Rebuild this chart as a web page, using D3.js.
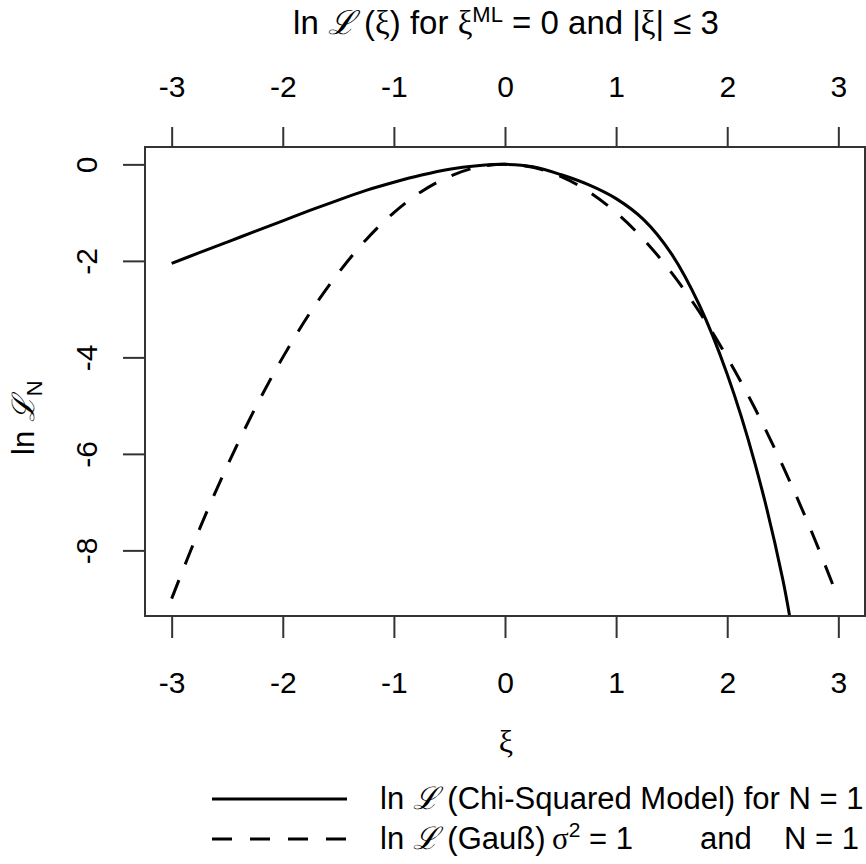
<!DOCTYPE html>
<html>
<head>
<meta charset="utf-8">
<script src="https://cdn.jsdelivr.net/npm/d3@7"></script>
<style>
  body { margin: 0; background: #fff; }
  text { font-family: 'Liberation Sans', Arial, sans-serif; fill: #000; }
  .greek { font-family: 'Liberation Serif', 'DejaVu Serif', serif; }
  .script { font-family: 'DejaVu Serif', serif; font-style: italic; }
</style>
</head>
<body>
<div id="chart"></div>
<script>
// values
var chiXi = [-3, -2.75, -2.5, -2.25, -2, -1.75, -1.5, -1.25, -1, -0.75, -0.5, -0.25, 0,
  0.25, 0.5, 0.75, 1, 1.25, 1.5, 1.75, 2, 2.25, 2.5, 2.6]
var chiLnL = [-2.05, -1.83, -1.61, -1.39, -1.17, -0.95, -0.74, -0.54, -0.37, -0.22, -0.1, -0.03, 0,
  -0.05, -0.21, -0.42, -0.71, -1.15, -1.86, -2.92, -4.35, -6.2, -8.6, -9.9]

var gaussXi = [-3, -2.75, -2.5, -2.25, -2, -1.75, -1.5, -1.25, -1, -0.75, -0.5, -0.25, 0,
  0.25, 0.5, 0.75, 1, 1.25, 1.5, 1.75, 2, 2.25, 2.5, 2.75, 3]
var gaussLnL = [-9, -7.56, -6.25, -5.06, -4, -3.06, -2.25, -1.56, -1, -0.56, -0.25, -0.06, 0,
  -0.06, -0.25, -0.56, -1, -1.56, -2.25, -3.06, -4, -5.06, -6.25, -7.56, -9]

var xTicks = [-3, -2, -1, 0, 1, 2, 3]
var yTicks = [0, -2, -4, -6, -8]

var margin = { top: 147, left: 145, right: 1, bottom: 248 }
var width = 866 - margin.left - margin.right
var height = 864 - margin.top - margin.bottom

var root = d3.select('#chart')
  .append('svg')
  .attr('width', 866)
  .attr('height', 864)

var svg = root.append('g')
  .attr('transform', 'translate(' + margin.left + ',' + margin.top + ')')

// R-style 4% padding around the data range
var x = d3.scaleLinear().domain([-3.24, 3.24]).range([0, width])
var y = d3.scaleLinear().domain([-9.36, 0.36]).range([height, 0])

svg.append('clipPath').attr('id', 'plot-clip')
  .append('rect').attr('width', width).attr('height', height)

var line = d3.line()
  .x(d => x(d[0]))
  .y(d => y(d[1]))
  .curve(d3.curveCatmullRom.alpha(0.5))

var curves = svg.append('g').attr('clip-path', 'url(#plot-clip)')

curves.append('path')
  .datum(d3.zip(gaussXi, gaussLnL))
  .attr('d', line)
  .attr('fill', 'none')
  .attr('stroke', '#000')
  .attr('stroke-width', 3)
  .attr('stroke-dasharray', '20,17')

curves.append('path')
  .datum(d3.zip(chiXi, chiLnL))
  .attr('d', line)
  .attr('fill', 'none')
  .attr('stroke', '#000')
  .attr('stroke-width', 3)

// box
svg.append('rect')
  .attr('width', width)
  .attr('height', height)
  .attr('fill', 'none')
  .attr('stroke', '#333')
  .attr('stroke-width', 2)

// R prints plain hyphens, not the unicode minus
var plain = d => String(d)

function styleAxis(g) {
  g.select('.domain').remove()
  g.selectAll('line').attr('stroke', '#333').attr('stroke-width', 2)
  g.selectAll('text').attr('font-size', 30).attr('font-family', null)
}

svg.append('g')
  .attr('transform', 'translate(0,' + height + ')')
  .call(d3.axisBottom(x).tickValues(xTicks).tickSize(22).tickFormat(plain))
  .call(styleAxis)
  .selectAll('text').attr('y', 77).attr('dy', null)

svg.append('g')
  .call(d3.axisTop(x).tickValues(xTicks).tickSize(20).tickFormat(plain))
  .call(styleAxis)
  .selectAll('text').attr('y', -50).attr('dy', null)

svg.append('g')
  .call(d3.axisLeft(y).tickValues(yTicks).tickSize(22).tickFormat(plain))
  .call(styleAxis)
  .selectAll('text')
  .attr('x', null).attr('dy', null)
  .attr('text-anchor', 'middle')
  .attr('transform', 'translate(-48,0) rotate(-90)')

// title
var title = root.append('text')
  .attr('x', 506)
  .attr('y', 34)
  .attr('text-anchor', 'middle')
  .attr('font-size', 33)
title.append('tspan').text('ln ')
title.append('tspan').attr('class', 'script').text('ℒ')
title.append('tspan').text(' (')
title.append('tspan').attr('class', 'greek').text('ξ')
title.append('tspan').text(') for ')
title.append('tspan').attr('class', 'greek').text('ξ')
title.append('tspan').attr('font-size', 22).attr('dy', -12).text('ML')
title.append('tspan').attr('dy', 12).text(' = 0 and |')
title.append('tspan').attr('class', 'greek').text('ξ')
title.append('tspan').text('| ≤ 3')

// x label
root.append('text')
  .attr('class', 'greek')
  .attr('x', 506)
  .attr('y', 752)
  .attr('text-anchor', 'middle')
  .attr('font-size', 32)
  .text('ξ')

// y label
var ylab = root.append('text')
  .attr('transform', 'translate(34,455) rotate(-90)')
  .attr('font-size', 31)
ylab.append('tspan').text('ln ')
ylab.append('tspan').attr('class', 'script').text('ℒ')
ylab.append('tspan').attr('font-size', 22).attr('dy', 8).text('N')

// legend
var legend = root.append('g')

legend.append('line')
  .attr('x1', 212).attr('x2', 347)
  .attr('y1', 799).attr('y2', 799)
  .attr('stroke', '#000').attr('stroke-width', 3)

legend.append('line')
  .attr('x1', 212).attr('x2', 347)
  .attr('y1', 839).attr('y2', 839)
  .attr('stroke', '#000').attr('stroke-width', 3)
  .attr('stroke-dasharray', '20,18')

var l1 = legend.append('text').attr('x', 380).attr('y', 809).attr('font-size', 31)
l1.append('tspan').text('ln ')
l1.append('tspan').attr('class', 'script').text('ℒ')
l1.append('tspan').text(' (Chi-Squared Model) for N = 1')

var l2 = legend.append('text').attr('x', 380).attr('y', 849).attr('font-size', 31)
l2.append('tspan').text('ln ')
l2.append('tspan').attr('class', 'script').text('ℒ')
l2.append('tspan').text(' (Gauß)')

var l2b = legend.append('text').attr('x', 552).attr('y', 849).attr('font-size', 31)
l2b.append('tspan').attr('class', 'greek').text('σ')
l2b.append('tspan').attr('font-size', 21).attr('dy', -12).text('2')
l2b.append('tspan').attr('dy', 12).text(' = 1')

legend.append('text').attr('x', 700).attr('y', 849).attr('font-size', 31).text('and')
legend.append('text').attr('x', 859).attr('y', 849).attr('font-size', 31)
  .attr('text-anchor', 'end').text('N = 1')
</script>
</body>
</html>
